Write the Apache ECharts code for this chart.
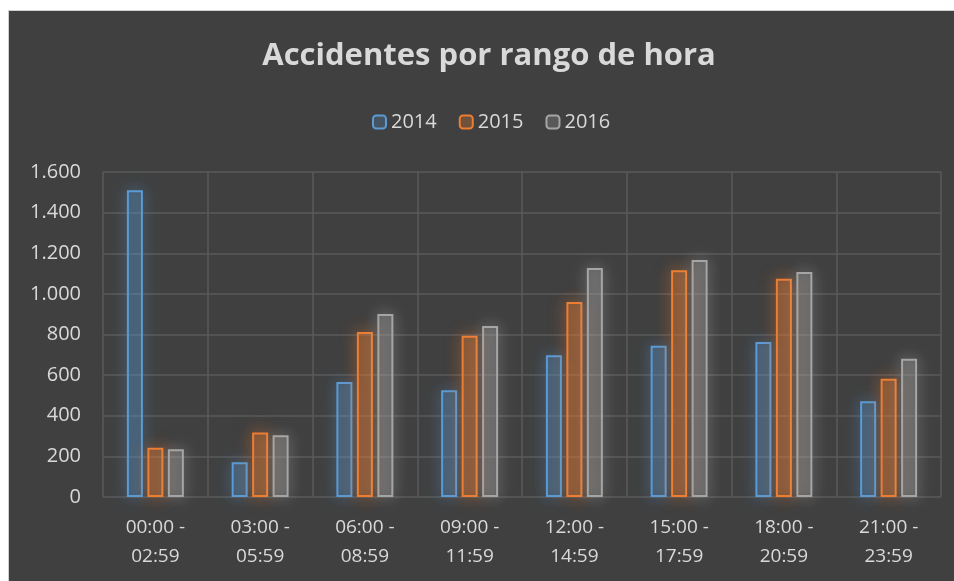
<!DOCTYPE html>
<html>
<head>
<meta charset="utf-8">
<script src="https://cdn.jsdelivr.net/npm/echarts@6/dist/echarts.min.js"></script>
<style>
  html, body { margin: 0; padding: 0; background: #ffffff; }
  #chart {
    position: absolute;
    left: 8px;
    top: 10px;
    width: 945px;
    height: 570px;
    border-left: 1px solid #d0d0d0;
    border-top: 1px solid #d0d0d0;
  }
</style>
</head>
<body>
<div id="chart"></div>
<script>
const categories = [
  "00:00 -\n02:59", "03:00 -\n05:59", "06:00 -\n08:59", "09:00 -\n11:59",
  "12:00 -\n14:59", "15:00 -\n17:59", "18:00 -\n20:59", "21:00 -\n23:59"
];
const years = ["2014", "2015", "2016"];
const values2014 = [1510, 171, 566, 525, 698, 745, 763, 471];
const values2015 = [243, 317, 812, 794, 960, 1116, 1075, 582];
const values2016 = [235, 304, 901, 842, 1127, 1167, 1108, 681];
const colors = ["#5b9bd5", "#ed7d31", "#a5a5a5"];
const fills = ["rgba(91,155,213,0.22)", "rgba(237,125,49,0.28)", "rgba(165,165,165,0.25)"];
const glows = ["rgba(91,155,213,0.85)", "rgba(237,125,49,0.85)", "rgba(190,190,190,0.75)"];

const font = "'Open Sans', 'Noto Sans', sans-serif";
const chart = echarts.init(document.getElementById("chart"));

function makeSeries(name, data, i) {
  return {
    name: name,
    type: "bar",
    data: data,
    barWidth: 16,
    barGap: "28%",
    itemStyle: {
      color: fills[i],
      borderColor: colors[i],
      borderWidth: 2,
      shadowBlur: 16,
      shadowColor: glows[i],
    },
  };
}

chart.setOption({
  backgroundColor: "#404040",
  animation: false,
  title: {
    text: "Accidentes por rango de hora",
    left: 475,
    top: 25,
    textAlign: "center",
    textStyle: {
      color: "#d9d9d9",
      fontFamily: font,
      fontWeight: "bold",
      fontSize: 31,
    },
  },
  legend: {
    data: years,
    top: 96,
    left: 358,
    itemWidth: 13,
    itemHeight: 13,
    itemGap: 22,
    textStyle: { color: "#d9d9d9", fontFamily: font, fontSize: 20 },
  },
  grid: { left: 94, right: 13, top: 161, bottom: 84 },
  xAxis: {
    type: "category",
    data: categories,
    axisLine: { show: false },
    axisTick: { show: false },
    splitLine: { show: true, lineStyle: { color: "#5a5a5a", width: 1.5 } },
    axisLabel: {
      color: "#d9d9d9",
      fontFamily: font,
      fontSize: 19,
      lineHeight: 29,
      margin: 16,
      interval: 0,
    },
  },
  yAxis: {
    type: "value",
    min: 0,
    max: 1600,
    interval: 200,
    axisLine: { show: false },
    axisTick: { show: false },
    splitLine: { lineStyle: { color: "#5a5a5a", width: 1.5 } },
    axisLabel: {
      color: "#d9d9d9",
      fontFamily: font,
      fontSize: 20,
      margin: 22,
      formatter: (v) => String(v).replace(/\B(?=(\d{3})+(?!\d))/g, "."),
    },
  },
  series: [
    makeSeries(years[0], values2014, 0),
    makeSeries(years[1], values2015, 1),
    makeSeries(years[2], values2016, 2),
  ],
});
</script>
</body>
</html>
